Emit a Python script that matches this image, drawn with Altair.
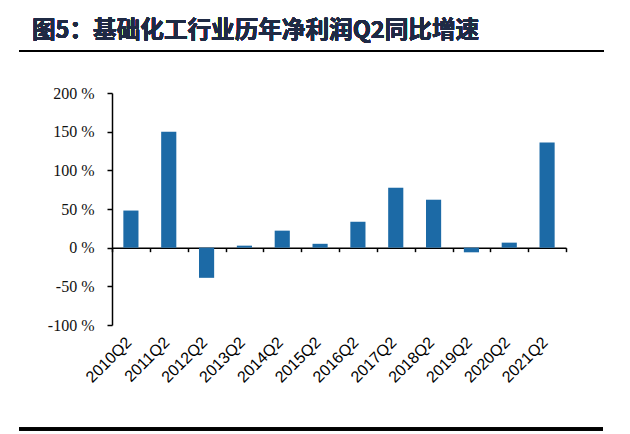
import pandas as pd
import altair as alt

# Net profit Q2 year-on-year growth, basic chemicals (%)
quarters = ["2010Q2", "2011Q2", "2012Q2", "2013Q2", "2014Q2", "2015Q2",
            "2016Q2", "2017Q2", "2018Q2", "2019Q2", "2020Q2", "2021Q2"]
growth = [48, 150, -39, 2.6, 22, 5, 33.5, 77.5, 62, -6, 6.5, 136]
y_ticks = [-100, -50, 0, 50, 100, 150, 200]
title_text = "图5：基础化工行业历年净利润Q2同比增速"

df = pd.DataFrame({"quarter": quarters, "growth": growth})

W, H = 454, 232
zero_offset = -H * (0 - y_ticks[0]) / (y_ticks[-1] - y_ticks[0])

bars = alt.Chart(df).mark_bar(color="#1c6aa6", width=alt.RelativeBandSize(0.4)).encode(
    x=alt.X("quarter:N", sort=quarters, title=None,
            scale=alt.Scale(paddingInner=0, paddingOuter=0),
            axis=alt.Axis(orient="bottom", offset=zero_offset, labelAngle=-45,
                          labelFont="Liberation Sans", labelFontSize=16,
                          labelColor="#000", labelPadding=82, labelOffset=-8,
                          tickBand="extent", tickSize=4, tickWidth=1.5,
                          tickColor="#000", domainColor="#000",
                          domainWidth=1.5, grid=False)),
    y=alt.Y("growth:Q", title=None,
            scale=alt.Scale(domain=[y_ticks[0], y_ticks[-1]], nice=False),
            axis=alt.Axis(values=y_ticks, labelExpr="datum.value + ' %'",
                          labelFont="Liberation Serif", labelFontSize=16,
                          labelColor="#111", labelPadding=13,
                          tickSize=5, tickWidth=1.5, tickColor="#000",
                          domainColor="#000", domainWidth=1.5, grid=False)),
)

# Title and horizontal rules above and below the figure
title = alt.Chart(df).mark_text(
    text=title_text, font="Noto Sans CJK SC", fontSize=23.6, fontWeight="bold",
    color="#1f2a44", align="left", baseline="middle").encode(
    x=alt.value(-80), y=alt.value(-62))
top_rule = alt.Chart(df).mark_rule(color="#000", strokeWidth=2).encode(
    x=alt.value(-93), x2=alt.value(492), y=alt.value(-42))
bottom_rule = alt.Chart(df).mark_rule(color="#000", strokeWidth=2.5).encode(
    x=alt.value(-93), x2=alt.value(491), y=alt.value(336))

chart = (bars + title + top_rule + bottom_rule).properties(
    width=W, height=H,
    autosize=alt.AutoSizeParams(type="none"),
    padding={"left": 104, "top": 85, "right": 40, "bottom": 106},
).configure_view(stroke=None)

chart.save("out.html", embed_options={"renderer": "svg", "actions": False})
